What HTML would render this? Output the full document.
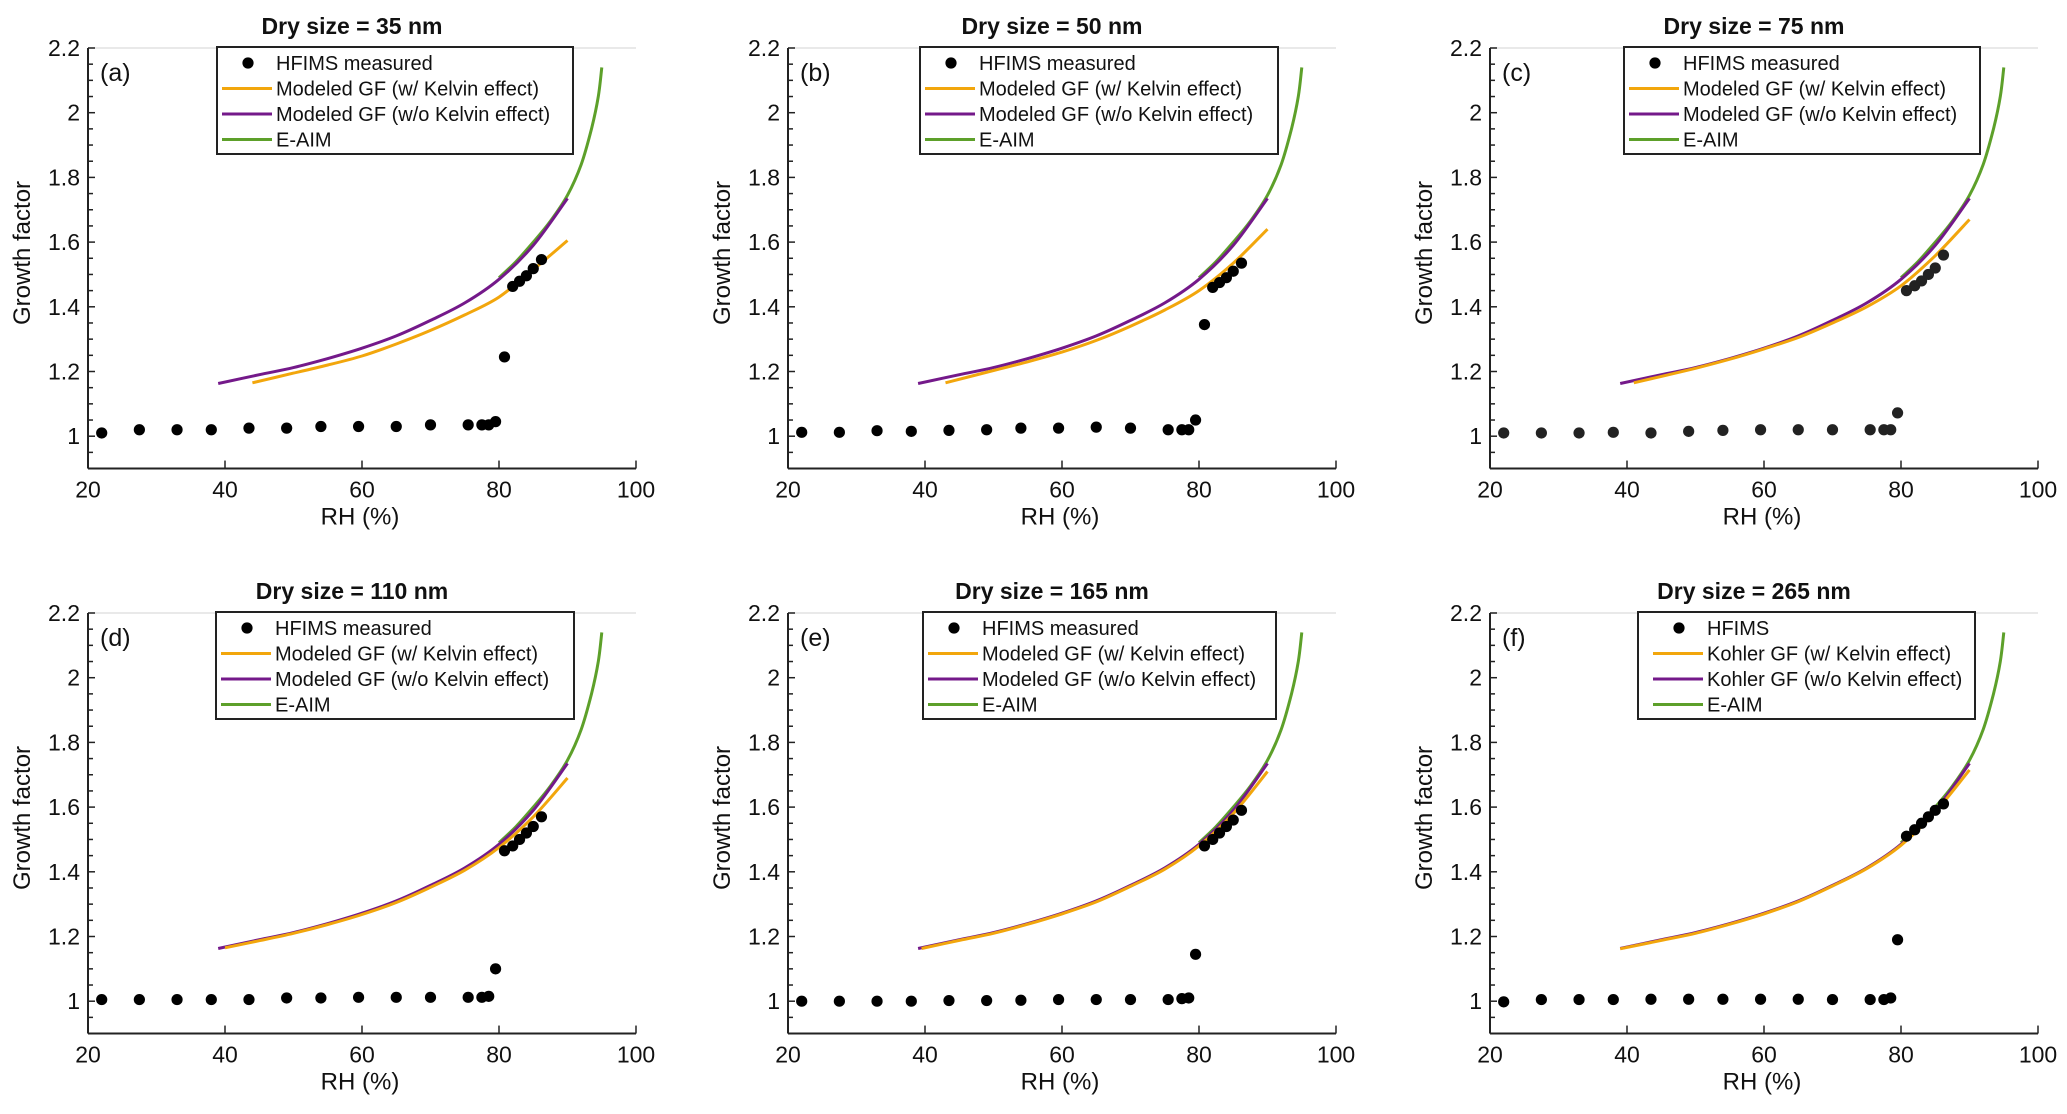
<!DOCTYPE html>
<html><head><meta charset="utf-8">
<style>
html,body{margin:0;padding:0;background:#fff;}
svg{display:block;font-family:"Liberation Sans",Arial,sans-serif;}
</style></head>
<body>
<svg id="chart" width="2067" height="1114" viewBox="0 0 2067 1114"></svg>
<script>
// ---- data ----
const titles = ["Dry size = 35 nm","Dry size = 50 nm","Dry size = 75 nm","Dry size = 110 nm","Dry size = 165 nm","Dry size = 265 nm"];
const panelLabels = ["(a)","(b)","(c)","(d)","(e)","(f)"];
const xTicks = [20,40,60,80,100];
const yTicks = [1,1.2,1.4,1.6,1.8,2,2.2];
const yTickLabels = ["1","1.2","1.4","1.6","1.8","2","2.2"];
const legendA = ["HFIMS measured","Modeled GF (w/ Kelvin effect)","Modeled GF (w/o Kelvin effect)","E-AIM"];
const legendF = ["HFIMS","Kohler GF (w/ Kelvin effect)","Kohler GF (w/o Kelvin effect)","E-AIM"];

const dotRH = [22,27.5,33,38,43.5,49,54,59.5,65,70,75.5,77.5,78.5,79.5,80.8,82,83,84,85,86.2];
const dotsA = [1.01,1.02,1.02,1.02,1.025,1.025,1.03,1.03,1.03,1.035,1.035,1.035,1.035,1.045,1.245,1.463,1.479,1.496,1.518,1.546];
const dotsB = [1.012,1.012,1.017,1.015,1.018,1.02,1.025,1.025,1.028,1.025,1.02,1.02,1.02,1.05,1.345,1.46,1.475,1.49,1.51,1.535];
const dotsC = [1.01,1.01,1.01,1.012,1.01,1.015,1.018,1.02,1.02,1.02,1.02,1.02,1.02,1.072,1.45,1.465,1.48,1.5,1.52,1.56];
const dotsD = [1.005,1.005,1.005,1.005,1.005,1.01,1.01,1.012,1.012,1.012,1.012,1.012,1.015,1.10,1.465,1.48,1.5,1.52,1.54,1.57];
const dotsE = [1.0,1.0,1.0,1.0,1.002,1.002,1.003,1.005,1.005,1.005,1.005,1.008,1.01,1.145,1.48,1.5,1.52,1.54,1.56,1.59];
const dotsF = [0.998,1.005,1.005,1.005,1.006,1.006,1.006,1.006,1.006,1.005,1.005,1.005,1.01,1.19,1.51,1.53,1.55,1.57,1.59,1.61];

const purpleRH = [39,45,50,55,60,65,70,75,80,85,90];
const purpleGF = [1.163,1.19,1.212,1.24,1.272,1.31,1.358,1.412,1.485,1.59,1.735];
const orangeRH_A = [44,50,55,60,65,70,75,80,85,90];
const orangeGF_A = [1.165,1.195,1.22,1.248,1.285,1.327,1.375,1.43,1.515,1.605];
const orangeRH_B = [43,50,55,60,65,70,75,80,85,90];
const orangeGF_B = [1.165,1.203,1.23,1.26,1.296,1.34,1.39,1.45,1.535,1.64];
const orangeRH_C = [41,45,50,55,60,65,70,75,80,85,90];
const orangeGF_C = [1.165,1.185,1.21,1.238,1.27,1.305,1.35,1.4,1.465,1.558,1.67];
const orangeRH_D = [40,45,50,55,60,65,70,75,80,85,90];
const orangeGF_D = [1.165,1.187,1.21,1.237,1.268,1.305,1.352,1.405,1.475,1.57,1.69];
const orangeRH_E = [39.5,45,50,55,60,65,70,75,80,85,90];
const orangeGF_E = [1.163,1.188,1.21,1.238,1.27,1.307,1.355,1.408,1.48,1.58,1.71];
const orangeRH_F = [39,45,50,55,60,65,70,75,80,85,90];
const orangeGF_F = [1.162,1.188,1.21,1.238,1.27,1.308,1.356,1.41,1.482,1.585,1.715];
const greenRH = [80,82.5,85,87.5,90,92,93.5,94.5,95];
const greenGF = [1.49,1.54,1.60,1.665,1.745,1.84,1.95,2.05,2.14];

// ---- layout ----
const NS="http://www.w3.org/2000/svg";
const svg=document.getElementById('chart');
const panels=[
 {l:88,t:48,dots:dotsA,oRH:orangeRH_A,oGF:orangeGF_A,leg:legendA,lx:129,lw:356},
 {l:788,t:48,dots:dotsB,oRH:orangeRH_B,oGF:orangeGF_B,leg:legendA,lx:132,lw:358},
 {l:1490,t:48,dots:dotsC,oRH:orangeRH_C,oGF:orangeGF_C,leg:legendA,lx:134,lw:356},
 {l:88,t:613,dots:dotsD,oRH:orangeRH_D,oGF:orangeGF_D,leg:legendA,lx:128,lw:358},
 {l:788,t:613,dots:dotsE,oRH:orangeRH_E,oGF:orangeGF_E,leg:legendA,lx:135,lw:353},
 {l:1490,t:613,dots:dotsF,oRH:orangeRH_F,oGF:orangeGF_F,leg:legendF,lx:148,lw:337}
];
const W=548, PY=32.35;
function mk(tag,attrs,parent){const e=document.createElementNS(NS,tag);for(const k in attrs)e.setAttribute(k,attrs[k]);(parent||svg).appendChild(e);return e;}
const ORANGE="#f2a60c", PURPLE="#74198a", GREEN="#5da02a";

function smooth(pts){
  let d='M'+pts[0][0].toFixed(1)+','+pts[0][1].toFixed(1);
  for(let i=0;i<pts.length-1;i++){
    const p0=pts[i-1]||pts[i],p1=pts[i],p2=pts[i+1],p3=pts[i+2]||p2;
    const c1=[p1[0]+(p2[0]-p0[0])/6,p1[1]+(p2[1]-p0[1])/6];
    const c2=[p2[0]-(p3[0]-p1[0])/6,p2[1]-(p3[1]-p1[1])/6];
    d+=` C${c1[0].toFixed(1)},${c1[1].toFixed(1)} ${c2[0].toFixed(1)},${c2[1].toFixed(1)} ${p2[0].toFixed(1)},${p2[1].toFixed(1)}`;
  }
  return d;
}

panels.forEach((p,i)=>{
  const g=mk('g',{});
  
  
  const X=v=>p.l+(v-20)/80*W;
  const Y=v=>p.t+(2.2-v)*10*PY;
  const bottom=Y(0.9);
  const tl=mk('line',{x1:p.l,x2:p.l+W,y1:p.t,y2:p.t,stroke:'#e2e2e2','stroke-width':1.5},g);
  
  
  const ya=mk('line',{x1:p.l,x2:p.l,y1:p.t,y2:bottom,stroke:'#222','stroke-width':2},g);
  
  
  const xa=mk('line',{x1:p.l,x2:p.l+W,y1:bottom,y2:bottom,stroke:'#222','stroke-width':2},g);
  
  
  for(let k=0;k<=26;k++){const v=0.9+k*0.05;const yy=Y(v);const r=Math.round(v*100)%20;const major=r===0;
    mk('line',{x1:p.l,x2:p.l+(major?7:5),y1:yy,y2:yy,stroke:'#222','stroke-width':1.5},g);}
  yTicks.forEach((v,j)=>{
    const t=mk('text',{x:p.l-8,y:Y(v)+8,'text-anchor':'end','font-size':23,fill:'#111'},g);t.textContent=yTickLabels[j];
    
    
  });
  xTicks.forEach(v=>{
    mk('line',{x1:X(v),x2:X(v),y1:bottom,y2:bottom-8,stroke:'#222','stroke-width':1.5},g);
    const t=mk('text',{x:X(v),y:bottom+29,'text-anchor':'middle','font-size':23,fill:'#111'},g);t.textContent=v;
    
    
  });
  const xl=mk('text',{x:p.l+W/2-2,y:bottom+56,'text-anchor':'middle','font-size':24,fill:'#111'},g);xl.textContent='RH (%)';
  
  
  const cy=p.t+205;
  const yl=mk('text',{x:0,y:0,'text-anchor':'middle','font-size':24,fill:'#111',transform:`translate(${p.l-58},${cy}) rotate(-90)`},g);yl.textContent='Growth factor';
  
  
  const ti=mk('text',{x:p.l+W/2-10,y:p.t-14,'text-anchor':'middle','font-size':23,'font-weight':'bold',fill:'#111'},g);ti.textContent=titles[i];
  
  
  const pl=mk('text',{x:p.l+12,y:p.t+33,'font-size':25,fill:'#111'},g);pl.textContent=panelLabels[i];
  
  
  const path=(xs,ys)=>smooth(xs.map((x,k)=>[X(x),Y(ys[k])]));
  const gr=mk('path',{d:path(greenRH,greenGF),fill:'none',stroke:GREEN,'stroke-width':3},g);
  
  
  const pu=mk('path',{d:path(purpleRH,purpleGF),fill:'none',stroke:PURPLE,'stroke-width':3,'stroke-linejoin':'round'},g);
  
  
  const or=mk('path',{d:path(p.oRH,p.oGF),fill:'none',stroke:ORANGE,'stroke-width':3,'stroke-linejoin':'round'},g);
  
  
  dotRH.forEach((x,k)=>{
    const c=mk('circle',{cx:X(x),cy:Y(p.dots[k]),r:5.6,fill:i==2?'#222':'#000'},g);
    
    
  });
  const lg=mk('g',{},g);
  
  
  const lx=p.l+p.lx, ly=p.t-1;
  mk('rect',{x:lx,y:ly,width:p.lw,height:107,fill:'#fff',stroke:'#222','stroke-width':2},lg);
  const cols=[null,ORANGE,PURPLE,GREEN];
  const ox = i==5?10:0;
  p.leg.forEach((s,k)=>{
    const ry=ly+16+k*25.5;
    if(k==0){mk('circle',{cx:lx+ox+31,cy:ry,r:5.6,fill:'#000'},lg);}
    else mk('line',{x1:lx+ox+5,x2:lx+ox+55,y1:ry,y2:ry,stroke:cols[k],'stroke-width':3},lg);
    const t=mk('text',{x:lx+ox+59,y:ry+7,'font-size':20,fill:'#111'},lg);t.textContent=s;
    
    
  });
});
</script>
</body></html>
